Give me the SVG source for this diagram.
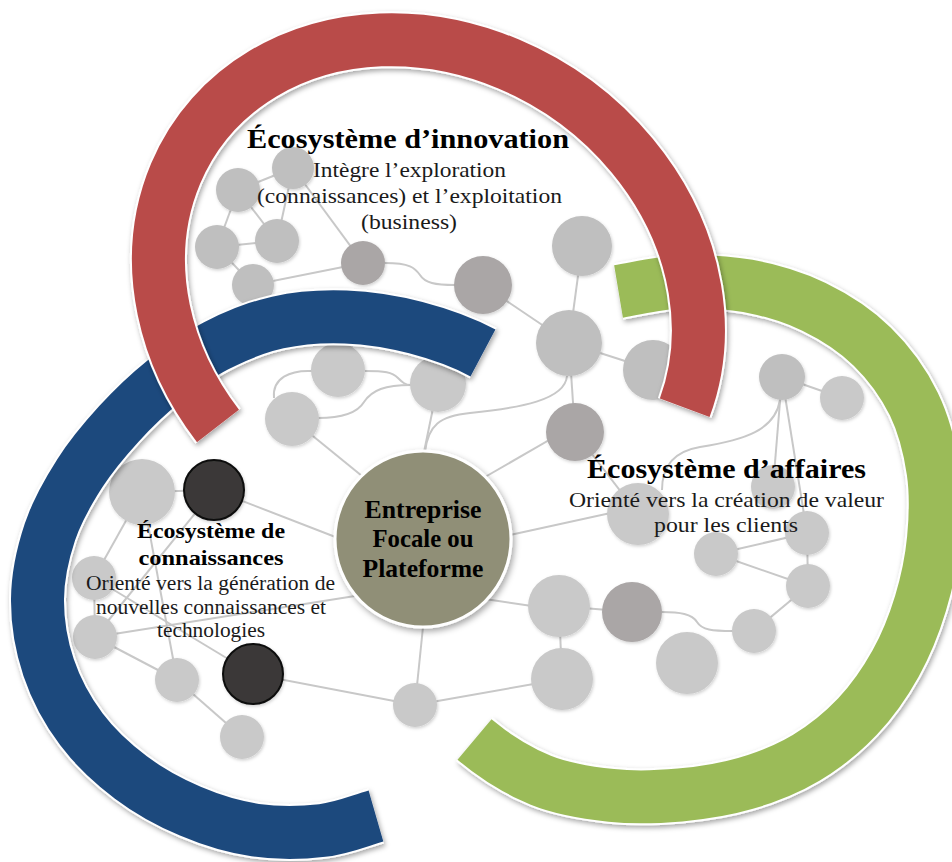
<svg xmlns="http://www.w3.org/2000/svg" width="952" height="862" viewBox="0 0 952 862">
<defs>
<style>
.edge{fill:none;stroke:#c8c8c8;stroke-width:2}
.nA{fill:#bfbfbf}
.nB{fill:#c9c9c9}
.nM{fill:#aaa6a6}
.nD{fill:#3a3937;stroke:#0d0d0d;stroke-width:2}
.band{fill:none;stroke-linecap:butt}
.bw{stroke:#ffffff;stroke-width:57}
.t{font-family:"Liberation Serif","Times New Roman",serif;text-anchor:middle;fill:#000}
.ts{fill:#1a1a1a}
.b{font-weight:bold}
</style>
<filter id="bsh" x="-15%" y="-15%" width="130%" height="130%">
<feDropShadow dx="1.5" dy="2.5" stdDeviation="2.5" flood-color="#000" flood-opacity="0.35"/>
</filter>
<filter id="nsh" x="-30%" y="-30%" width="160%" height="160%">
<feDropShadow dx="1" dy="1.5" stdDeviation="1.5" flood-color="#000" flood-opacity="0.18"/>
</filter>
<filter id="csh" x="-20%" y="-20%" width="140%" height="140%">
<feDropShadow dx="2" dy="3" stdDeviation="3" flood-color="#000" flood-opacity="0.35"/>
</filter>
<path id="blueC" d="M483,353 C461.8,341.7 438.7,333.7 415.8,327.7 C392.9,321.7 368.7,317.9 345.7,317 C322.7,316.1 299.4,317.7 277.8,322.5 C256.2,327.3 235.2,336 216.2,345.8 C197.2,355.6 180,368.4 163.8,381.4 C147.6,394.4 132.8,408.7 118.8,424 C104.8,439.3 91.3,455.3 79.8,473.3 C68.3,491.3 57,511 49.9,531.9 C42.9,552.8 37.7,576.4 37.5,599 C37.3,621.6 41.3,645.8 48.6,667.5 C55.9,689.2 67.6,710.9 81.3,729.2 C95,747.5 112.7,763.8 130.9,777.5 C149.1,791.2 169.6,802.4 190.3,811.2 C211,820 233.2,826.9 255.2,830.1 C277.2,833.3 302.2,832.9 322.3,830.5 C342.4,828.2 358.7,821 376,816"/>
<path id="greenC" d="M618.5,291.5 C638.2,288.2 658.5,282.9 680,282 C701.6,281.1 725.5,281.8 747.8,285.9 C770.1,290.1 793.3,296.8 814,306.9 C834.8,317 855.7,330.5 872.3,346.7 C888.9,362.9 903.7,383.3 913.8,404 C923.9,424.8 929.8,448.7 933.1,471.2 C936.4,493.7 935.6,517 933.5,539 C931.4,561 926.8,582.7 920.5,603.4 C914.2,624.2 906.1,644.7 895.6,663.5 C885.1,682.4 872.4,700.8 857.5,716.5 C842.6,732.2 825,746.6 806.3,757.7 C787.6,768.9 766.6,777.2 745.5,783.4 C724.4,789.6 702.4,793 680,795 C657.6,797 634.5,797.9 611.3,795.4 C588.1,792.9 563.6,789.5 540.8,780.2 C518,770.9 492.9,754.9 474.5,739.5"/>
<path id="redC" d="M218,426 A281.5,242.5 34 1 1 684.7,407.8"/>
</defs>
<rect width="952" height="862" fill="#ffffff"/>

<g id="connectors">
<line class="edge" x1="238" y1="190" x2="293" y2="168"/>
<line class="edge" x1="238" y1="190" x2="217" y2="247"/>
<line class="edge" x1="238" y1="190" x2="277" y2="241"/>
<line class="edge" x1="293" y1="168" x2="277" y2="241"/>
<line class="edge" x1="293" y1="168" x2="363" y2="263"/>
<line class="edge" x1="217" y1="247" x2="277" y2="241"/>
<line class="edge" x1="217" y1="247" x2="253" y2="285"/>
<line class="edge" x1="253" y1="285" x2="363" y2="263"/>
<path class="edge" d="M385,263 C410,263 415,268 420,275 C425,283 435,285 455,285"/>
<line class="edge" x1="483" y1="285" x2="569" y2="343"/>
<line class="edge" x1="582" y1="246" x2="569" y2="343"/>
<line class="edge" x1="569" y1="343" x2="653" y2="370"/>
<line class="edge" x1="569" y1="343" x2="575" y2="432"/>
<path class="edge" d="M567,376 C565,400 520,408 470,413 C440,416 428,425 425,452"/>
<path class="edge" d="M365,371 C385,371 392,372 398,378 C402,382 405,385 411,385"/>
<path class="edge" d="M312,371 C290,370 272,378 274,398"/>
<path class="edge" d="M318,418 C345,418 358,412 364,402 C372,390 385,385 411,385"/>
<line class="edge" x1="438" y1="384" x2="424" y2="452"/>
<line class="edge" x1="292" y1="419" x2="362" y2="476"/>
<line class="edge" x1="570" y1="428" x2="485" y2="477"/>
<line class="edge" x1="575" y1="432" x2="638" y2="514"/>
<line class="edge" x1="782" y1="377" x2="842" y2="398"/>
<line class="edge" x1="782" y1="377" x2="773" y2="487"/>
<line class="edge" x1="782" y1="377" x2="807" y2="533"/>
<path class="edge" d="M780,400 C775,430 745,440 700,447 C670,452 662,470 662,490"/>
<line class="edge" x1="638" y1="507" x2="510" y2="535"/>
<line class="edge" x1="807" y1="533" x2="716" y2="554"/>
<line class="edge" x1="807" y1="533" x2="808" y2="586"/>
<line class="edge" x1="716" y1="554" x2="808" y2="586"/>
<line class="edge" x1="808" y1="586" x2="754" y2="631"/>
<path class="edge" d="M733,631 C712,631 702,630 697,622 C692,614 680,612 662,612"/>
<line class="edge" x1="559" y1="606" x2="632" y2="612"/>
<line class="edge" x1="559" y1="610" x2="485" y2="599"/>
<line class="edge" x1="559" y1="606" x2="562" y2="679"/>
<line class="edge" x1="562" y1="679" x2="415" y2="705"/>
<line class="edge" x1="415" y1="705" x2="423" y2="627"/>
<line class="edge" x1="253" y1="674" x2="415" y2="705"/>
<line class="edge" x1="214" y1="490" x2="338" y2="538"/>
<line class="edge" x1="142" y1="492" x2="214" y2="490"/>
<line class="edge" x1="142" y1="492" x2="94" y2="578"/>
<line class="edge" x1="142" y1="492" x2="177" y2="680"/>
<line class="edge" x1="214" y1="490" x2="95" y2="637"/>
<line class="edge" x1="94" y1="578" x2="95" y2="637"/>
<line class="edge" x1="94" y1="578" x2="253" y2="674"/>
<line class="edge" x1="95" y1="637" x2="355" y2="596"/>
<line class="edge" x1="95" y1="637" x2="177" y2="680"/>
<line class="edge" x1="177" y1="680" x2="242" y2="737"/>
</g>

<g id="nodes" filter="url(#nsh)">
<g id="n1"><circle class="nA" cx="238" cy="190" r="22"/></g>
<g id="n2"><circle class="nA" cx="293" cy="168" r="21"/></g>
<g id="n3"><circle class="nA" cx="217" cy="247" r="22"/></g>
<g id="n4"><circle class="nA" cx="277" cy="241" r="22"/></g>
<g id="n5"><circle class="nA" cx="253" cy="285" r="21"/></g>
<g id="n6"><circle class="nM" cx="363" cy="263" r="22"/></g>
<g id="n7"><circle class="nM" cx="483" cy="285" r="29"/></g>
<g id="n8"><circle class="nA" cx="582" cy="246" r="30"/></g>
<g id="n9"><circle class="nA" cx="569" cy="343" r="33"/></g>
<g id="n10"><circle class="nA" cx="653" cy="370" r="30"/></g>
<g id="n11"><circle class="nM" cx="575" cy="432" r="29"/></g>
<g id="n12"><circle class="nB" cx="338" cy="370" r="27"/></g>
<g id="n13"><circle class="nB" cx="438" cy="384" r="28"/></g>
<g id="n14"><circle class="nB" cx="292" cy="419" r="27"/></g>
<g id="n15"><circle class="nA" cx="782" cy="377" r="23"/></g>
<g id="n16"><circle class="nB" cx="842" cy="398" r="22"/></g>
<g id="n17"><circle class="nB" cx="638" cy="514" r="31"/></g>
<g id="n18"><circle class="nB" cx="773" cy="487" r="22"/></g>
<g id="n19"><circle class="nB" cx="807" cy="533" r="22"/></g>
<g id="n20"><circle class="nB" cx="716" cy="554" r="22"/></g>
<g id="n21"><circle class="nB" cx="808" cy="586" r="22"/></g>
<g id="n22"><circle class="nB" cx="754" cy="631" r="22"/></g>
<g id="n23"><circle class="nB" cx="559" cy="606" r="31"/></g>
<g id="n24"><circle class="nM" cx="632" cy="612" r="30"/></g>
<g id="n25"><circle class="nB" cx="687" cy="663" r="31"/></g>
<g id="n26"><circle class="nB" cx="562" cy="679" r="31"/></g>
<g id="n27"><circle class="nB" cx="415" cy="705" r="22"/></g>
<g id="n28"><circle class="nB" cx="142" cy="492" r="33"/></g>
<g id="n29"><circle class="nD" cx="214" cy="490" r="30"/></g>
<g id="n30"><circle class="nD" cx="253" cy="674" r="30"/></g>
<g id="n31"><circle class="nB" cx="94" cy="578" r="22"/></g>
<g id="n32"><circle class="nB" cx="95" cy="637" r="22"/></g>
<g id="n33"><circle class="nB" cx="177" cy="680" r="22"/></g>
<g id="n34"><circle class="nB" cx="242" cy="737" r="22"/></g>
</g>

<g id="focal">
<circle cx="423" cy="539" r="88" fill="#908f77" stroke="#ffffff" stroke-width="3" filter="url(#csh)"/>
<text class="t b" font-size="25" x="423" y="518" textLength="117" lengthAdjust="spacingAndGlyphs">Entreprise</text>
<text class="t b" font-size="25" x="423" y="547" textLength="101" lengthAdjust="spacingAndGlyphs">Focale ou</text>
<text class="t b" font-size="25" x="423" y="577" textLength="121" lengthAdjust="spacingAndGlyphs">Plateforme</text>
</g>

<g id="eco-connaissances">
<g filter="url(#bsh)">
<use href="#blueC" class="band bw"/>
<use href="#blueC" class="band" stroke="#1f497d" stroke-width="53"/>
</g>
<text class="t b" font-size="22" x="211" y="538" textLength="148" lengthAdjust="spacingAndGlyphs">Écosystème de</text>
<text class="t b" font-size="22" x="211" y="565" textLength="145" lengthAdjust="spacingAndGlyphs">connaissances</text>
<text class="t ts" font-size="20" x="210.5" y="590" textLength="249" lengthAdjust="spacingAndGlyphs">Orienté vers la génération de</text>
<text class="t ts" font-size="20" x="211" y="614" textLength="230" lengthAdjust="spacingAndGlyphs">nouvelles connaissances et</text>
<text class="t ts" font-size="20" x="211" y="637" textLength="108" lengthAdjust="spacingAndGlyphs">technologies</text>
</g>

<g id="eco-affaires">
<g filter="url(#bsh)">
<use href="#greenC" class="band bw"/>
<use href="#greenC" class="band" stroke="#9bbb59" stroke-width="53"/>
</g>
<text class="t b" font-size="27" x="726.5" y="478" textLength="279" lengthAdjust="spacingAndGlyphs">Écosystème d’affaires</text>
<text class="t ts" font-size="21" x="726.5" y="507" textLength="315" lengthAdjust="spacingAndGlyphs">Orienté vers la création de valeur</text>
<text class="t ts" font-size="21" x="726" y="532" textLength="144" lengthAdjust="spacingAndGlyphs">pour les clients</text>
</g>

<g id="eco-innovation">
<g filter="url(#bsh)">
<use href="#redC" class="band bw"/>
<use href="#redC" class="band" stroke="#b94b4a" stroke-width="53"/>
</g>
<text class="t b" font-size="27" x="408" y="148" textLength="322" lengthAdjust="spacingAndGlyphs">Écosystème d’innovation</text>
<text class="t ts" font-size="21" x="409.5" y="177" textLength="193" lengthAdjust="spacingAndGlyphs">Intègre l’exploration</text>
<text class="t ts" font-size="21" x="409.5" y="203" textLength="305" lengthAdjust="spacingAndGlyphs">(connaissances) et l’exploitation</text>
<text class="t ts" font-size="21" x="409" y="229" textLength="96" lengthAdjust="spacingAndGlyphs">(business)</text>
</g>
</svg>
